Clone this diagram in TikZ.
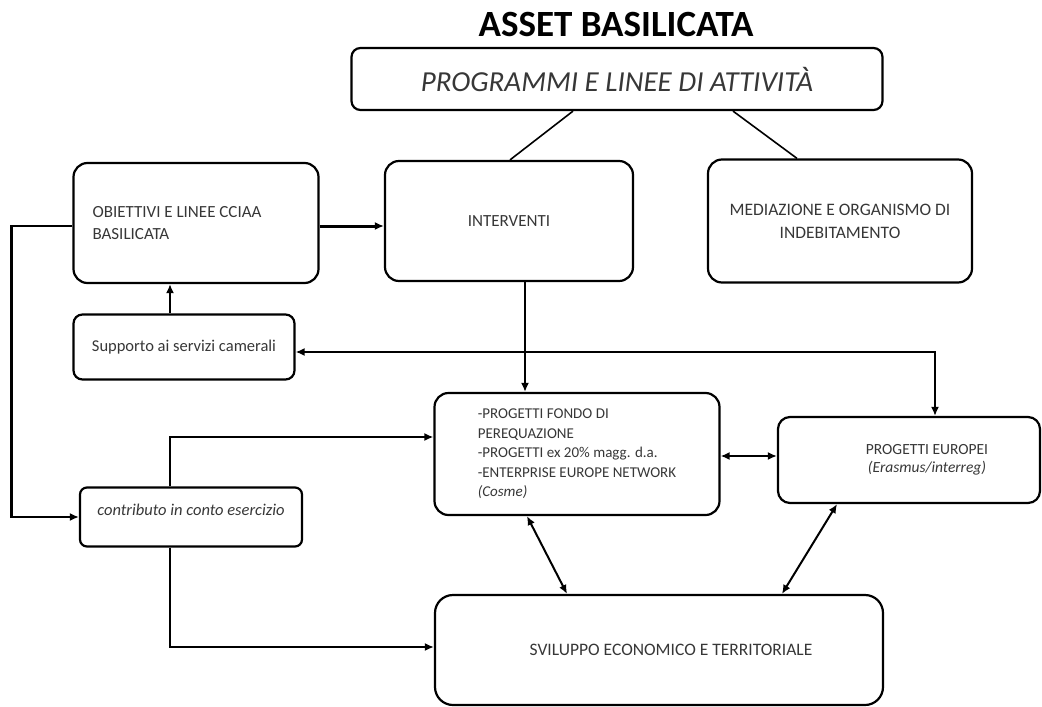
\documentclass[tikz,border=0pt]{standalone}
\usepackage{fontspec}
\setmainfont{Carlito}
\usetikzlibrary{arrows.meta}
\definecolor{txt}{RGB}{55,55,55}

\begin{document}
\begin{tikzpicture}[x=1pt, y=-1pt,
	box/.style={draw, line width=2.2pt, rounded corners=14pt, align=center, text=txt, font=\fontsize{17}{22}\selectfont},
	link/.style={line width=2pt, -{Latex[length=9pt,width=8pt]}},
	twoway/.style={line width=2pt, {Latex[length=9pt,width=8pt]}-{Latex[length=9pt,width=8pt]}}]
	\useasboundingbox (0,0) rectangle (1042,707);

	\node (title) at (616,24) {\fontsize{37}{40}\selectfont\bfseries ASSET BASILICATA};
	\node[box, rounded corners=9pt, minimum width=531pt, minimum height=62pt, font=\fontsize{29}{32}\selectfont\itshape] (prog) at (617,79) {PROGRAMMI E LINEE DI ATTIVITÀ};

	\node[box, minimum width=245pt, minimum height=120pt, text width=207pt, inner xsep=19pt, align=flush left] (obiettivi) at (196,223) {OBIETTIVI E LINEE CCIAA\\BASILICATA};
	\node[box, minimum width=248pt, minimum height=120pt] (interventi) at (509,221) {INTERVENTI};
	\node[box, minimum width=264pt, minimum height=123pt, font=\fontsize{17.5}{23}\selectfont] (mediazione) at (840,221) {MEDIAZIONE E ORGANISMO DI\\INDEBITAMENTO};

	\node[box, rounded corners=9pt, minimum width=221pt, minimum height=65pt, font=\fontsize{16.5}{20}\selectfont] (supporto) at (184,347) {Supporto ai servizi camerali};
	\node[box, rounded corners=7pt, minimum width=222pt, minimum height=59pt, font=\fontsize{16.5}{20}\selectfont\itshape] (contributo) at (191,517) {contributo in conto esercizio\\[-6pt]};

	\node[box, minimum width=285pt, minimum height=122pt, align=flush left, font=\fontsize{15}{19.5}\selectfont] (fondo) at (577,454)
		{-PROGETTI FONDO DI\\PEREQUAZIONE\\-PROGETTI ex 20\% magg. d.a.\\-ENTERPRISE EUROPE NETWORK\\\textit{(Cosme)}};
	\node[box, rounded corners=12pt, minimum width=262pt, minimum height=86pt, font=\fontsize{15.5}{18}\selectfont] (europei) at (909,460)
		{\hspace*{36pt}PROGETTI EUROPEI\\\hspace*{36pt}\textit{(Erasmus/interreg)}};
	\node[box, rounded corners=18pt, minimum width=448pt, minimum height=110pt, font=\fontsize{17.5}{20}\selectfont] (sviluppo) at (659,650)
		{\hspace*{24pt}SVILUPPO ECONOMICO E TERRITORIALE};

	% links from the top box
	\draw[line width=1.6pt] ([xshift=-44pt]prog.south) -- ([xshift=1pt]interventi.north);
	\draw[line width=1.6pt] ([xshift=116pt]prog.south) -- ([xshift=-43pt]mediazione.north);

	\draw[link, line width=3pt] ([yshift=-3pt]obiettivi.east) -- ([yshift=-3pt]obiettivi.east -| interventi.west);
	\draw[link] ([xshift=-14pt]supporto.north) -- ([xshift=-14pt]supporto.north |- obiettivi.south);
	\draw[link, line width=2.6pt] ([yshift=-3pt]obiettivi.west) -- ++(-61,0) |- (contributo.west);
	\draw[link] ([xshift=-21pt]contributo.north) |- ([yshift=17pt]fondo.west);
	\draw[link] ([xshift=-21pt]contributo.south) |- ([yshift=3pt]sviluppo.west);
	\draw[link] ([xshift=16pt]interventi.south) -- ([xshift=16pt]interventi.south |- fondo.north);
	\draw[twoway, line width=2.6pt] ([yshift=-5pt]supporto.east) -| ([xshift=26pt]europei.north);

	\draw[twoway, line width=2.6pt] ([yshift=-2pt]fondo.east) -- ([yshift=-2pt]fondo.east -| europei.west);
	\draw[twoway] ([xshift=-50pt]fondo.south) -- ([xshift=-92pt]sviluppo.north);
	\draw[twoway] ([xshift=-72pt]europei.south) -- ([xshift=123pt]sviluppo.north);
\end{tikzpicture}
\end{document}
